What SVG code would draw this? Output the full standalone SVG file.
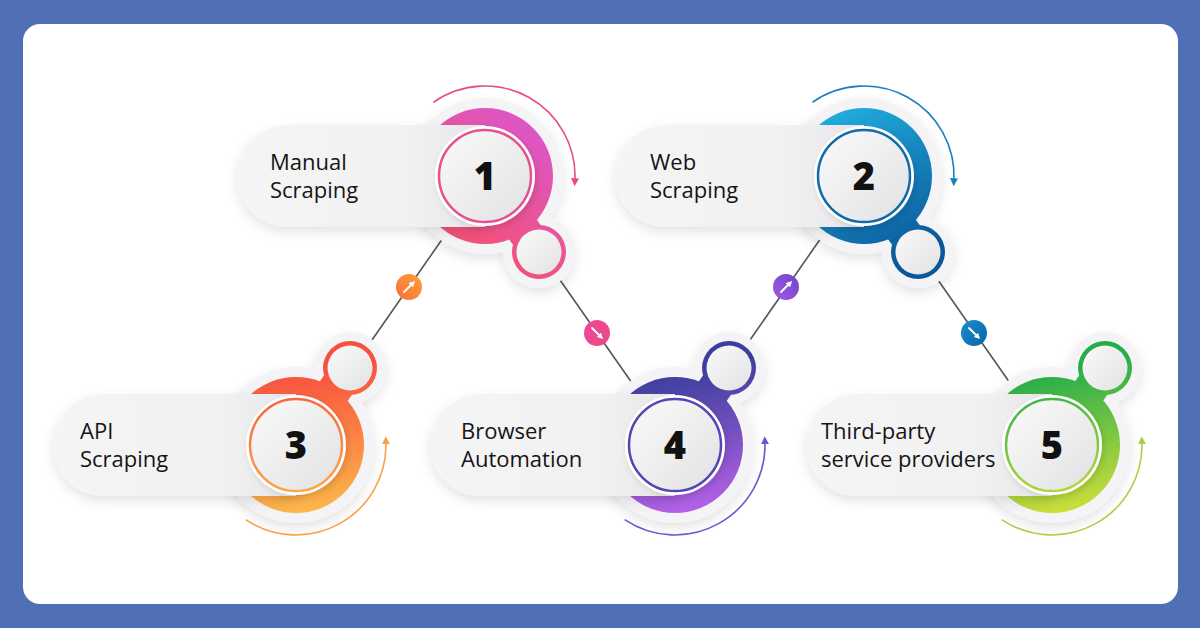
<svg xmlns="http://www.w3.org/2000/svg" width="1200" height="628" viewBox="0 0 1200 628">
<style>
.lbl{font-family:"Open Sans","Liberation Sans",sans-serif;font-size:22px;fill:#151515}
.num{font-family:"Open Sans","Liberation Sans",sans-serif;font-size:38px;font-weight:800;fill:#111;text-anchor:middle}
.halo{fill:#f4f4f6}
.conn{stroke:#555;stroke-width:1.6;fill:none}
.arc{fill:none;stroke-width:1.6}
.bad-arrow{stroke:#fff;stroke-width:1.8;fill:none;stroke-linecap:round}
</style>
<defs>
<filter id="sh" x="-30%" y="-30%" width="160%" height="160%"><feDropShadow dx="0" dy="5" stdDeviation="6" flood-color="#000" flood-opacity="0.11"/></filter>
<filter id="sh2" x="-30%" y="-30%" width="160%" height="160%"><feDropShadow dx="2" dy="3" stdDeviation="3" flood-color="#000" flood-opacity="0.12"/></filter>
<linearGradient id="pill" x1="0" y1="0" x2="1" y2="0"><stop offset="0" stop-color="#f5f5f6"/><stop offset="0.7" stop-color="#f1f1f2"/><stop offset="1" stop-color="#e6e6e8"/></linearGradient>
<linearGradient id="inner" x1="0" y1="0" x2="1" y2="1"><stop offset="0" stop-color="#fafafa"/><stop offset="1" stop-color="#e2e2e4"/></linearGradient>
<linearGradient id="g1" gradientUnits="userSpaceOnUse" x1="545" y1="108" x2="440" y2="250"><stop offset="0" stop-color="#d957d3"/><stop offset="1" stop-color="#f6506a"/></linearGradient>
<linearGradient id="g2" gradientUnits="userSpaceOnUse" x1="820" y1="108" x2="910" y2="262"><stop offset="0" stop-color="#22b2e2"/><stop offset="1" stop-color="#0a5799"/></linearGradient>
<linearGradient id="g3" gradientUnits="userSpaceOnUse" x1="296" y1="370" x2="310" y2="515"><stop offset="0" stop-color="#f8503f"/><stop offset="1" stop-color="#fdba4a"/></linearGradient>
<linearGradient id="g4" gradientUnits="userSpaceOnUse" x1="675" y1="370" x2="700" y2="515"><stop offset="0" stop-color="#3a3f9c"/><stop offset="1" stop-color="#b962ea"/></linearGradient>
<linearGradient id="g5" gradientUnits="userSpaceOnUse" x1="1052" y1="370" x2="1080" y2="515"><stop offset="0" stop-color="#25ad4a"/><stop offset="1" stop-color="#d3e03a"/></linearGradient>
<linearGradient id="b1" x1="0" y1="1" x2="1" y2="0"><stop offset="0" stop-color="#f7703a"/><stop offset="1" stop-color="#fca13c"/></linearGradient>
<linearGradient id="b2" x1="0" y1="0" x2="1" y2="1"><stop offset="0" stop-color="#f2459a"/><stop offset="1" stop-color="#e84b84"/></linearGradient>
<linearGradient id="b3" x1="0" y1="1" x2="1" y2="0"><stop offset="0" stop-color="#a059e0"/><stop offset="1" stop-color="#6e46cc"/></linearGradient>
<linearGradient id="b4" x1="0" y1="0" x2="1" y2="1"><stop offset="0" stop-color="#1a8ed0"/><stop offset="1" stop-color="#0a64a8"/></linearGradient>
<marker id="m1" viewBox="0 0 10 10" refX="3" refY="5" markerWidth="8" markerHeight="8" markerUnits="userSpaceOnUse" orient="auto"><path d="M0,0 L10,5 L0,10 z" fill="#e84a8e"/></marker>
<marker id="m2" viewBox="0 0 10 10" refX="3" refY="5" markerWidth="8" markerHeight="8" markerUnits="userSpaceOnUse" orient="auto"><path d="M0,0 L10,5 L0,10 z" fill="#1a7fc0"/></marker>
<marker id="m3" viewBox="0 0 10 10" refX="3" refY="5" markerWidth="8" markerHeight="8" markerUnits="userSpaceOnUse" orient="auto"><path d="M0,0 L10,5 L0,10 z" fill="#f8a048"/></marker>
<marker id="m4" viewBox="0 0 10 10" refX="3" refY="5" markerWidth="8" markerHeight="8" markerUnits="userSpaceOnUse" orient="auto"><path d="M0,0 L10,5 L0,10 z" fill="#7452d0"/></marker>
<marker id="m5" viewBox="0 0 10 10" refX="3" refY="5" markerWidth="8" markerHeight="8" markerUnits="userSpaceOnUse" orient="auto"><path d="M0,0 L10,5 L0,10 z" fill="#a8d040"/></marker>
<marker id="mw" viewBox="0 0 10 10" refX="5" refY="5" markerWidth="6" markerHeight="6" markerUnits="userSpaceOnUse" orient="auto"><path d="M0,0 L10,5 L0,10 z" fill="#fff"/></marker>
</defs>

<rect x="0" y="0" width="1200" height="628" fill="#5070b6"/>
<rect x="23" y="24" width="1155" height="580" rx="17" fill="#ffffff"/>

<g id="connectors">
<line class="conn" x1="372" y1="340" x2="443" y2="238"/>
<line class="conn" x1="560" y1="280" x2="632" y2="383"/>
<line class="conn" x1="750" y1="340" x2="821" y2="238"/>
<line class="conn" x1="938" y1="280" x2="1010" y2="383"/>
<circle cx="409" cy="287" r="13" fill="url(#b1)"/>
<line class="bad-arrow" x1="404" y1="292" x2="413" y2="283" marker-end="url(#mw)"/>
<circle cx="597" cy="333" r="13" fill="url(#b2)"/>
<line class="bad-arrow" x1="592" y1="328" x2="601" y2="337" marker-end="url(#mw)"/>
<circle cx="786" cy="287" r="13" fill="url(#b3)"/>
<line class="bad-arrow" x1="781" y1="292" x2="790" y2="283" marker-end="url(#mw)"/>
<circle cx="974" cy="333" r="13" fill="url(#b4)"/>
<line class="bad-arrow" x1="969" y1="328" x2="978" y2="337" marker-end="url(#mw)"/>
</g>

<g id="node1">
<g filter="url(#sh)" class="halo"><circle cx="485" cy="176" r="78"/><circle cx="539" cy="252" r="36"/><line x1="485" y1="176" x2="539" y2="252" stroke="#f4f4f6" stroke-width="56"/></g>
<circle cx="485" cy="176" r="68" fill="url(#g1)"/><circle cx="539" cy="252" r="27" fill="url(#g1)"/><line x1="485" y1="176" x2="539" y2="252" stroke="url(#g1)" stroke-width="34"/>
<circle cx="539" cy="252" r="22.5" fill="url(#inner)"/>
<path d="M288,125 H485 V227 H288 A51,51 0 0 1 288,125 Z" fill="url(#pill)" filter="url(#sh)"/>
<circle cx="485" cy="176" r="50" fill="#fff" filter="url(#sh2)"/>
<circle cx="485" cy="176" r="46" fill="url(#inner)" stroke="#e8508f" stroke-width="2.5"/>
<text class="num" x="485" y="190">1</text>
<text class="lbl" x="270" y="170">Manual</text><text class="lbl" x="270" y="198">Scraping</text>
<path class="arc" d="M433.4,102.3 A90,90 0 0 1 574.9,180.7" stroke="#e84a8e" marker-end="url(#m1)"/>
</g>

<g id="node2">
<g filter="url(#sh)" class="halo"><circle cx="864" cy="176" r="78"/><circle cx="918" cy="252" r="36"/><line x1="864" y1="176" x2="918" y2="252" stroke="#f4f4f6" stroke-width="56"/></g>
<circle cx="864" cy="176" r="68" fill="url(#g2)"/><circle cx="918" cy="252" r="27" fill="url(#g2)"/><line x1="864" y1="176" x2="918" y2="252" stroke="url(#g2)" stroke-width="34"/>
<circle cx="918" cy="252" r="22.5" fill="url(#inner)"/>
<path d="M666,125 H864 V227 H666 A51,51 0 0 1 666,125 Z" fill="url(#pill)" filter="url(#sh)"/>
<circle cx="864" cy="176" r="50" fill="#fff" filter="url(#sh2)"/>
<circle cx="864" cy="176" r="46" fill="url(#inner)" stroke="#0e6aa8" stroke-width="2.5"/>
<text class="num" x="864" y="190">2</text>
<text class="lbl" x="650" y="170">Web</text><text class="lbl" x="650" y="198">Scraping</text>
<path class="arc" d="M812.4,102.3 A90,90 0 0 1 953.9,180.7" stroke="#1a7fc0" marker-end="url(#m2)"/>
</g>

<g id="node3">
<g filter="url(#sh)" class="halo"><circle cx="296" cy="445" r="78"/><circle cx="350" cy="368" r="36"/><line x1="296" y1="445" x2="350" y2="368" stroke="#f4f4f6" stroke-width="56"/></g>
<circle cx="296" cy="445" r="68" fill="url(#g3)"/><circle cx="350" cy="368" r="27" fill="url(#g3)"/><line x1="296" y1="445" x2="350" y2="368" stroke="url(#g3)" stroke-width="34"/>
<circle cx="350" cy="368" r="22.5" fill="url(#inner)"/>
<path d="M104,394 H296 V496 H104 A51,51 0 0 1 104,394 Z" fill="url(#pill)" filter="url(#sh)"/>
<circle cx="296" cy="445" r="50" fill="#fff" filter="url(#sh2)"/>
<circle cx="296" cy="445" r="46" fill="url(#inner)" stroke="url(#g3)" stroke-width="2.5"/>
<text class="num" x="296" y="459">3</text>
<text class="lbl" x="80" y="439">API</text><text class="lbl" x="80" y="467">Scraping</text>
<path class="arc" d="M245.7,519.6 A90,90 0 0 0 385.9,441.9" stroke="#f8a048" marker-end="url(#m3)"/>
</g>

<g id="node4">
<g filter="url(#sh)" class="halo"><circle cx="675" cy="445" r="78"/><circle cx="729" cy="368" r="36"/><line x1="675" y1="445" x2="729" y2="368" stroke="#f4f4f6" stroke-width="56"/></g>
<circle cx="675" cy="445" r="68" fill="url(#g4)"/><circle cx="729" cy="368" r="27" fill="url(#g4)"/><line x1="675" y1="445" x2="729" y2="368" stroke="url(#g4)" stroke-width="34"/>
<circle cx="729" cy="368" r="22.5" fill="url(#inner)"/>
<path d="M481,394 H675 V496 H481 A51,51 0 0 1 481,394 Z" fill="url(#pill)" filter="url(#sh)"/>
<circle cx="675" cy="445" r="50" fill="#fff" filter="url(#sh2)"/>
<circle cx="675" cy="445" r="46" fill="url(#inner)" stroke="#5048b2" stroke-width="2.5"/>
<text class="num" x="675" y="459">4</text>
<text class="lbl" x="461" y="439">Browser</text><text class="lbl" x="461" y="467">Automation</text>
<path class="arc" d="M624.7,519.6 A90,90 0 0 0 764.9,441.9" stroke="#7452d0" marker-end="url(#m4)"/>
</g>

<g id="node5">
<g filter="url(#sh)" class="halo"><circle cx="1052" cy="445" r="78"/><circle cx="1105" cy="368" r="36"/><line x1="1052" y1="445" x2="1105" y2="368" stroke="#f4f4f6" stroke-width="56"/></g>
<circle cx="1052" cy="445" r="68" fill="url(#g5)"/><circle cx="1105" cy="368" r="27" fill="url(#g5)"/><line x1="1052" y1="445" x2="1105" y2="368" stroke="url(#g5)" stroke-width="34"/>
<circle cx="1105" cy="368" r="22.5" fill="url(#inner)"/>
<path d="M857,394 H1052 V496 H857 A51,51 0 0 1 857,394 Z" fill="url(#pill)" filter="url(#sh)"/>
<circle cx="1052" cy="445" r="50" fill="#fff" filter="url(#sh2)"/>
<circle cx="1052" cy="445" r="46" fill="url(#inner)" stroke="url(#g5)" stroke-width="2.5"/>
<text class="num" x="1052" y="459">5</text>
<text class="lbl" x="821" y="439">Third-party</text><text class="lbl" x="821" y="467">service providers</text>
<path class="arc" d="M1001.7,519.6 A90,90 0 0 0 1141.9,441.9" stroke="#a8d040" marker-end="url(#m5)"/>
</g>
</svg>
